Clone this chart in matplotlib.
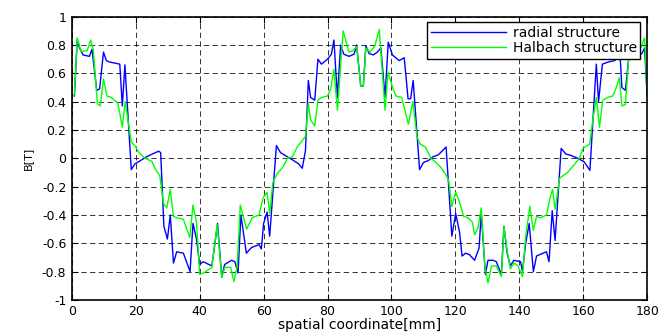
import numpy as np
import matplotlib
matplotlib.use("Agg")
import matplotlib.pyplot as plt

# flux density along the air gap, radial magnets
radial_x = [0.8, 1.7, 2.4, 3.5, 5.5, 6.3, 7.8, 8.7, 9.9, 10.8, 11.8, 15.0, 15.8, 16.6,
            18.6, 19.7, 21.2, 23.3, 26.1, 27.2, 27.8, 28.8, 29.9, 30.8, 31.8, 32.8, 34.9,
            37.0, 37.9, 39.0, 40.0, 41.1, 43.8, 45.6, 46.9, 47.8, 50.0, 51.0, 52.0, 52.9,
            54.6, 56.2, 58.6, 59.3, 60.0, 61.1, 61.9, 64.0, 65.3, 66.8, 69.0, 71.0, 72.1,
            73.1, 74.0, 74.7, 76.0, 77.0, 78.1, 80.0, 81.2, 82.0, 83.1, 84.1, 85.1, 86.7,
            88.3, 89.1, 90.4, 91.2, 92.0, 93.0, 94.3, 95.6, 96.7, 98.0, 99.0, 100.3, 102.4,
            104.0, 105.2, 106.0, 106.8, 108.8, 110.0, 111.6, 112.9, 114.7, 117.1, 118.9,
            120.1, 121.3, 122.1, 123.2, 124.4, 126.0, 127.4, 128.1, 129.4, 130.2, 131.8,
            132.8, 134.4, 135.2, 136.2, 137.2, 138.3, 140.4, 141.0, 142.0, 143.1, 144.4,
            145.4, 146.4, 148.5, 149.3, 150.3, 151.2, 153.1, 154.6, 156.2, 158.3, 160.3,
            162.1, 164.1, 164.8, 166.0, 167.8, 169.9, 171.0, 171.4, 172.1, 173.2, 174.2,
            175.2, 176.8, 178.4, 179.2, 180.0]
radial_b = [0.44, 0.84, 0.78, 0.73, 0.72, 0.77, 0.48, 0.49, 0.75, 0.69, 0.68, 0.665, 0.37, 0.66,
            -0.08, -0.04, -0.02, 0.01, 0.04, 0.05, 0.04, -0.48, -0.57, -0.40, -0.74, -0.66, -0.67,
            -0.80, -0.46, -0.57, -0.75, -0.73, -0.76, -0.46, -0.84, -0.75, -0.72, -0.73, -0.81, -0.40,
            -0.67, -0.63, -0.61, -0.64, -0.46, -0.38, -0.55, 0.09, 0.04, 0.02, -0.01, -0.04, -0.07,
            0.055, 0.55, 0.43, 0.41, 0.70, 0.665, 0.70, 0.735, 0.835, 0.43, 0.80, 0.735, 0.72,
            0.735, 0.80, 0.51, 0.51, 0.795, 0.74, 0.73, 0.75, 0.78, 0.43, 0.82, 0.73, 0.69,
            0.71, 0.42, 0.42, 0.55, -0.08, -0.03, -0.015, 0.01, 0.025, 0.08, -0.55,
            -0.39, -0.52, -0.69, -0.67, -0.68, -0.72, -0.635, -0.39, -0.82, -0.72, -0.72,
            -0.73, -0.82, -0.48, -0.67, -0.76, -0.72, -0.73, -0.80, -0.60, -0.46, -0.80,
            -0.69, -0.68, -0.66, -0.73, -0.37, -0.58, 0.07, 0.03, 0.02, 0.0, -0.025,
            -0.085, 0.665, 0.40, 0.665, 0.68, 0.69, 0.75, 0.78, 0.50, 0.48, 0.70,
            0.735, 0.72, 0.74, 0.78, 0.44]

# flux density along the air gap, Halbach array
halbach_x = [0.8, 1.7, 2.9, 4.8, 5.9, 6.7, 8.0, 8.9, 9.9, 11.0, 12.3, 14.4, 15.8, 16.7,
             18.6, 19.7, 21.0, 22.9, 25.0, 26.2, 27.5, 28.7, 29.7, 30.8, 31.8, 32.8, 34.9,
             36.9, 37.9, 39.0, 40.0, 41.2, 43.8, 45.5, 46.9, 47.9, 49.7, 50.7, 51.7, 52.7,
             54.7, 56.4, 58.6, 59.8, 61.1, 61.9, 62.9, 64.2, 66.1, 67.4, 69.0, 70.5, 73.1,
             74.0, 74.7, 76.0, 77.0, 78.1, 80.0, 81.0, 82.0, 83.1, 84.9, 86.7, 88.0, 89.1,
             90.4, 91.2, 92.0, 93.3, 94.8, 96.2, 98.0, 98.9, 100.5, 101.4, 103.2, 105.3,
             106.7, 108.0, 109.0, 110.6, 112.4, 113.7, 115.3, 116.9, 117.9, 118.9, 120.1,
             121.3, 122.6, 124.0, 125.3, 126.0, 127.1, 128.1, 129.2, 130.2, 131.3, 132.8,
             134.4, 135.2, 136.2, 137.2, 138.3, 139.6, 141.0, 142.0, 143.3, 144.4, 145.4,
             146.6, 148.5, 149.6, 150.4, 151.2, 152.6, 155.1, 157.0, 158.8, 159.9, 162.0,
             163.0, 164.1, 165.1, 166.1, 167.6, 169.2, 170.2, 171.3, 172.1, 173.2, 174.2,
             175.2, 176.8, 178.0, 179.2, 180.0]
halbach_b = [0.45, 0.85, 0.755, 0.76, 0.835, 0.77, 0.385, 0.37, 0.56, 0.44, 0.43, 0.39, 0.22, 0.40,
             0.115, 0.09, 0.04, 0.0, -0.02, -0.08, -0.12, -0.32, -0.35, -0.22, -0.41, -0.42, -0.43,
             -0.56, -0.33, -0.45, -0.82, -0.81, -0.77, -0.47, -0.84, -0.77, -0.77, -0.87, -0.77, -0.33,
             -0.50, -0.42, -0.40, -0.28, -0.24, -0.39, -0.17, -0.11, -0.06, 0.0, 0.01, 0.08, 0.155,
             0.385, 0.27, 0.23, 0.41, 0.43, 0.44, 0.49, 0.63, 0.34, 0.90, 0.75, 0.76, 0.79,
             0.51, 0.51, 0.78, 0.75, 0.795, 0.91, 0.34, 0.61, 0.49, 0.44, 0.43, 0.24,
             0.40, 0.15, 0.10, 0.08, 0.0, -0.025, -0.06, -0.11, -0.155, -0.34, -0.24,
             -0.31, -0.41, -0.42, -0.45, -0.54, -0.49, -0.35, -0.76, -0.88, -0.76, -0.76,
             -0.835, -0.48, -0.65, -0.78, -0.74, -0.76, -0.835, -0.55, -0.34, -0.51, -0.41,
             -0.42, -0.40, -0.28, -0.22, -0.36, -0.14, -0.10, -0.05, 0.0, 0.07, 0.10,
             0.27, 0.43, 0.22, 0.41, 0.43, 0.44, 0.49, 0.57, 0.37, 0.38, 0.70,
             0.88, 0.76, 0.78, 0.85, 0.45]

x_ticks = [0, 20, 40, 60, 80, 100, 120, 140, 160, 180]
y_ticks = [-1, -0.8, -0.6, -0.4, -0.2, 0, 0.2, 0.4, 0.6, 0.8, 1]
y_tick_labels = ["-1", "-0.8", "-0.6", "-0.4", "-0.2", "0", "0.2", "0.4", "0.6", "0.8", "1"]

plt.rcParams["font.family"] = "DejaVu Sans"

fig = plt.figure(figsize=(6.59, 3.34), dpi=100)
ax = fig.add_axes([0.109, 0.102, 0.873, 0.848])

ax.plot(radial_x, radial_b, color=(0, 0, 1), linewidth=1.0, label="radial structure")
ax.plot(halbach_x, halbach_b, color=(0, 1, 0), linewidth=1.0, label="Halbach structure")

ax.set_xlim(0, 180)
ax.set_ylim(-1, 1)
ax.set_xticks(x_ticks)
ax.set_yticks(y_ticks)
ax.set_yticklabels(y_tick_labels)

ax.grid(True, color="k", linestyle=(0, (5.5, 3.5)), linewidth=0.7, alpha=0.8)
ax.tick_params(direction="in", length=4, width=0.8, top=True, right=True,
               labelsize=9, pad=4)
for s in ax.spines.values():
    s.set_linewidth(1.2)

ax.set_xlabel("spatial coordinate[mm]", fontsize=10, labelpad=0)
ax.set_ylabel("B[T]", fontsize=8, labelpad=6)

leg = ax.legend(loc="upper right", bbox_to_anchor=(0.988, 0.98), fontsize=10,
                handlelength=5.4, handletextpad=0.5, borderpad=0.25,
                labelspacing=0.1, fancybox=False, framealpha=1,
                edgecolor="k", borderaxespad=0)
leg.get_frame().set_linewidth(1.0)

fig.savefig("out.png", dpi=100)
